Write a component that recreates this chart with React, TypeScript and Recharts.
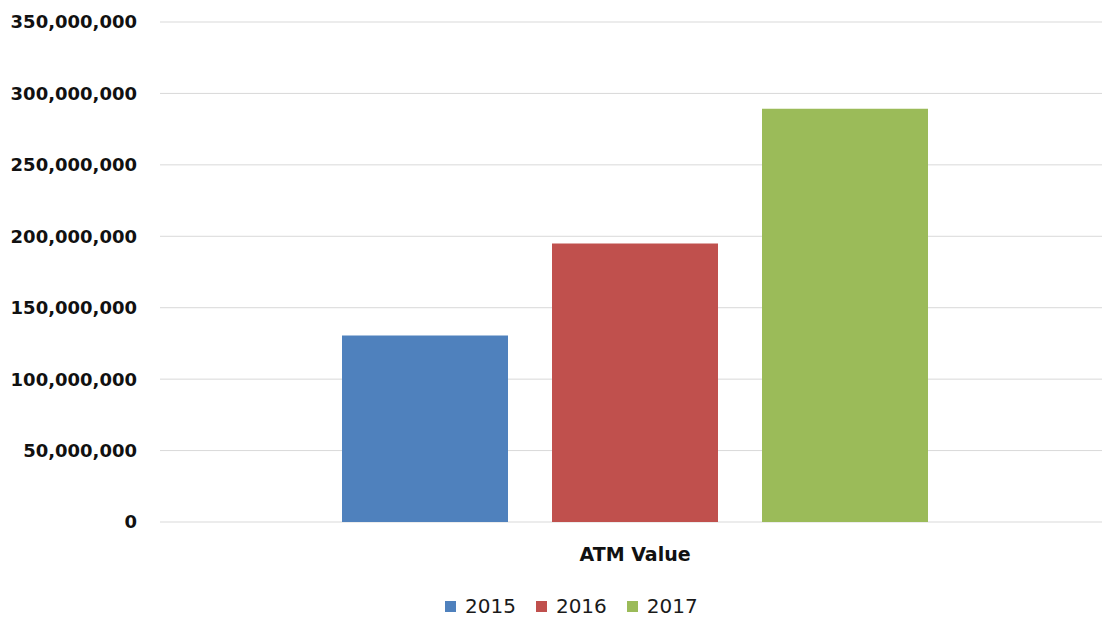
import { BarChart, Bar, XAxis, YAxis, CartesianGrid, Legend } from "recharts";

const categories = ["ATM Value"];
const years = ["2015", "2016", "2017"];
const values2015 = [130600000];
const values2016 = [195000000];
const values2017 = [289300000];
const yTicks = [0, 50000000, 100000000, 150000000, 200000000, 250000000, 300000000, 350000000];
const colors = ["#4F81BD", "#C0504D", "#9BBB59"];

const data = categories.map((name, i) => ({
  name,
  "2015": values2015[i],
  "2016": values2016[i],
  "2017": values2017[i],
}));

const font = "'DejaVu Sans', sans-serif";

function LegendContent({ payload }: any) {
  return (
    <div style={{ display: "flex", paddingLeft: 445, height: 20, alignItems: "center" }}>
      {(payload || []).map((p: any) => (
        <div key={p.value} style={{ display: "flex", alignItems: "center", marginRight: 20 }}>
          <span style={{ width: 11, height: 11, background: p.color, marginRight: 9, display: "inline-block" }} />
          <span style={{ fontFamily: font, fontSize: 20, color: "#1a1a1a", lineHeight: "20px" }}>{p.value}</span>
        </div>
      ))}
    </div>
  );
}

export default function App() {
  return (
    <div style={{ position: "absolute", left: 0, top: 0, background: "#fff" }}>
      <BarChart
        width={1102}
        height={621}
        data={data}
        margin={{ top: 22, right: 0, bottom: 59, left: 0 }}
        barSize={166}
        barGap={44}
      >
        <CartesianGrid vertical={false} stroke="#d9d9d9" />
        <XAxis
          dataKey="name"
          height={40}
          axisLine={false}
          tickLine={false}
          tickSize={0}
          tickMargin={26}
          padding={{ left: 8, right: 0 }}
          tick={{ fontFamily: font, fontSize: 19, fontWeight: "bold", fill: "#111" }}
        />
        <YAxis
          width={160}
          domain={[0, 350000000]}
          ticks={yTicks}
          axisLine={false}
          tickLine={false}
          tickSize={0}
          tickMargin={23}
          tickFormatter={(v: number) => v.toLocaleString("en-US")}
          tick={{ fontFamily: font, fontSize: 18, fontWeight: "bold", fill: "#111" }}
        />
        <Legend
          verticalAlign="middle"
          align="center"
          wrapperStyle={{ top: 596, left: 0 }}
          content={<LegendContent />}
        />
        {years.map((y, i) => (
          <Bar key={y} dataKey={y} fill={colors[i]} isAnimationActive={false} />
        ))}
      </BarChart>
    </div>
  );
}
